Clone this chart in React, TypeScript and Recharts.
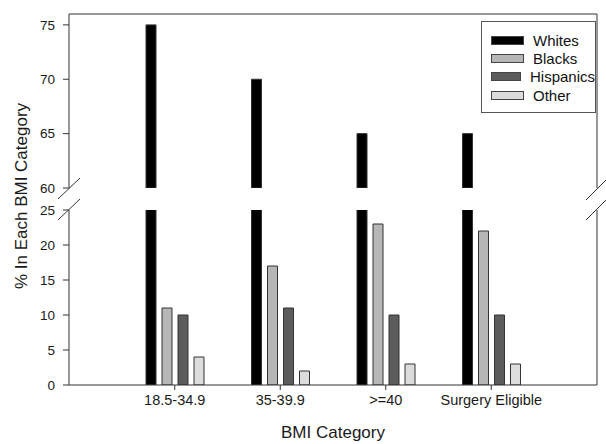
import React from 'react';
import { BarChart, Bar, XAxis, YAxis, Legend, ReferenceLine } from 'recharts';

const categories = ['18.5-34.9', '35-39.9', '>=40', 'Surgery Eligible'];
const whites = [75, 70, 65, 65];
const blacks = [11, 17, 23, 22];
const hispanics = [10, 11, 10, 10];
const other = [4, 2, 3, 3];

const seriesNames = ['Whites', 'Blacks', 'Hispanics', 'Other'];
const seriesColors = ['#000000', '#b6b6b6', '#5c5c5c', '#dcdcdc'];

const upperTicks = [60, 65, 70, 75];
const lowerTicks = [0, 5, 10, 15, 20, 25];

const FONT = "'Liberation Sans', Arial, Helvetica, sans-serif";
const AXIS = '#333';

// lower panel gets every series, upper panel only the values above the break
const lowerRows = categories.map((cat, i) => ({
  cat,
  Whites: whites[i],
  Blacks: blacks[i],
  Hispanics: hispanics[i],
  Other: other[i],
}));
const upperRows = categories.map((cat, i) => ({ cat, Whites: whites[i] }));

const W = 606;
const H = 444;
const margin = { left: 9, right: 8 };

const LegendBox = (props: any) => {
  const { payload = [] } = props;
  // keep the series order, not the alphabetical one
  const items = [...payload].sort(
    (a: any, b: any) => seriesNames.indexOf(a.value) - seriesNames.indexOf(b.value)
  );
  return (
    <div
      style={{
        width: 115,
        height: 92,
        border: '1px solid #555',
        background: '#fff',
        boxSizing: 'border-box',
        padding: '9px 0 0 9px',
        fontFamily: FONT,
        fontSize: 15,
        color: '#111',
      }}
    >
      {items.map((entry: any) => (
        <div key={entry.value} style={{ display: 'flex', alignItems: 'center', height: 18.4 }}>
          <span
            style={{
              display: 'inline-block',
              width: 33,
              height: 9,
              background: entry.color,
              border: '1px solid #444',
              boxSizing: 'border-box',
              marginRight: 9,
            }}
          />
          <span>{entry.value}</span>
        </div>
      ))}
    </div>
  );
};

const bars = () =>
  seriesNames.map((name, i) => (
    <Bar
      key={name}
      dataKey={name}
      fill={seriesColors[i]}
      stroke="#333"
      strokeWidth={1}
      isAnimationActive={false}
    />
  ));

export default function App() {
  const tickStyle = { fontFamily: FONT, fill: '#1a1a1a' };
  return (
    <div style={{ position: 'absolute', left: 0, top: 0, width: W, height: H, background: '#fff' }}>
      {/* upper panel: 60-76 */}
      <div style={{ position: 'absolute', left: 0, top: 0 }}>
        <BarChart
          width={W}
          height={200}
          data={upperRows}
          margin={{ top: 14, bottom: 12, ...margin }}
          barSize={10}
          barGap={6}
        >
          <XAxis dataKey="cat" hide padding={{ left: 53, right: 53 }} />
          <YAxis
            domain={[60, 76]}
            ticks={upperTicks}
            allowDataOverflow
            width={60}
            axisLine={{ stroke: AXIS }}
            tickLine={{ stroke: AXIS }}
            tickSize={6}
            tickMargin={8}
            tick={{ ...tickStyle, fontSize: 13.5 }}
          />
          <YAxis
            yAxisId="r"
            orientation="right"
            type="number"
            domain={[0, 1]}
            width={1}
            tick={false}
            tickLine={false}
            axisLine={{ stroke: AXIS }}
          />
          <ReferenceLine y={76} stroke={AXIS} />
          {bars()}
        </BarChart>
      </div>

      {/* lower panel: 0-25 */}
      <div style={{ position: 'absolute', left: 0, top: 0 }}>
        <BarChart
          width={W}
          height={H}
          data={lowerRows}
          margin={{ top: 210, bottom: 29, ...margin }}
          barSize={10}
          barGap={6}
        >
          <XAxis
            dataKey="cat"
            height={30}
            padding={{ left: 53, right: 53 }}
            axisLine={{ stroke: AXIS }}
            tickLine={{ stroke: AXIS }}
            tickSize={5}
            tickMargin={5}
            interval={0}
            tick={{ ...tickStyle, fontSize: 14.5 }}
          />
          <YAxis
            domain={[0, 25]}
            ticks={lowerTicks}
            allowDataOverflow
            width={60}
            axisLine={{ stroke: AXIS }}
            tickLine={{ stroke: AXIS }}
            tickSize={6}
            tickMargin={8}
            tick={{ ...tickStyle, fontSize: 13.5 }}
          />
          <YAxis
            yAxisId="r"
            orientation="right"
            type="number"
            domain={[0, 1]}
            width={1}
            tick={false}
            tickLine={false}
            axisLine={{ stroke: AXIS }}
          />
          {bars()}
          <Legend
            layout="vertical"
            align="center"
            verticalAlign="middle"
            wrapperStyle={{ top: 21, left: 481, width: 115, height: 92 }}
            content={<LegendBox />}
          />
        </BarChart>
      </div>

      {/* axis break marks and titles */}
      <svg
        width={W}
        height={H}
        style={{ position: 'absolute', left: 0, top: 0, pointerEvents: 'none' }}
      >
        <g stroke={AXIS} strokeWidth={1}>
          <line x1={58} y1={199} x2={80} y2={178} />
          <line x1={58} y1={220} x2={80} y2={199} />
          <line x1={586} y1={200} x2={606} y2={180} />
          <line x1={586} y1={220} x2={606} y2={200} />
        </g>
        <text
          x={21}
          y={196}
          transform="rotate(-90 21 196)"
          textAnchor="middle"
          dominantBaseline="central"
          fontFamily={FONT}
          fontSize={17}
          fill="#1a1a1a"
        >
          % In Each BMI Category
        </text>
        <text x={333} y={438} textAnchor="middle" fontFamily={FONT} fontSize={17} fill="#1a1a1a">
          BMI Category
        </text>
      </svg>
    </div>
  );
}
